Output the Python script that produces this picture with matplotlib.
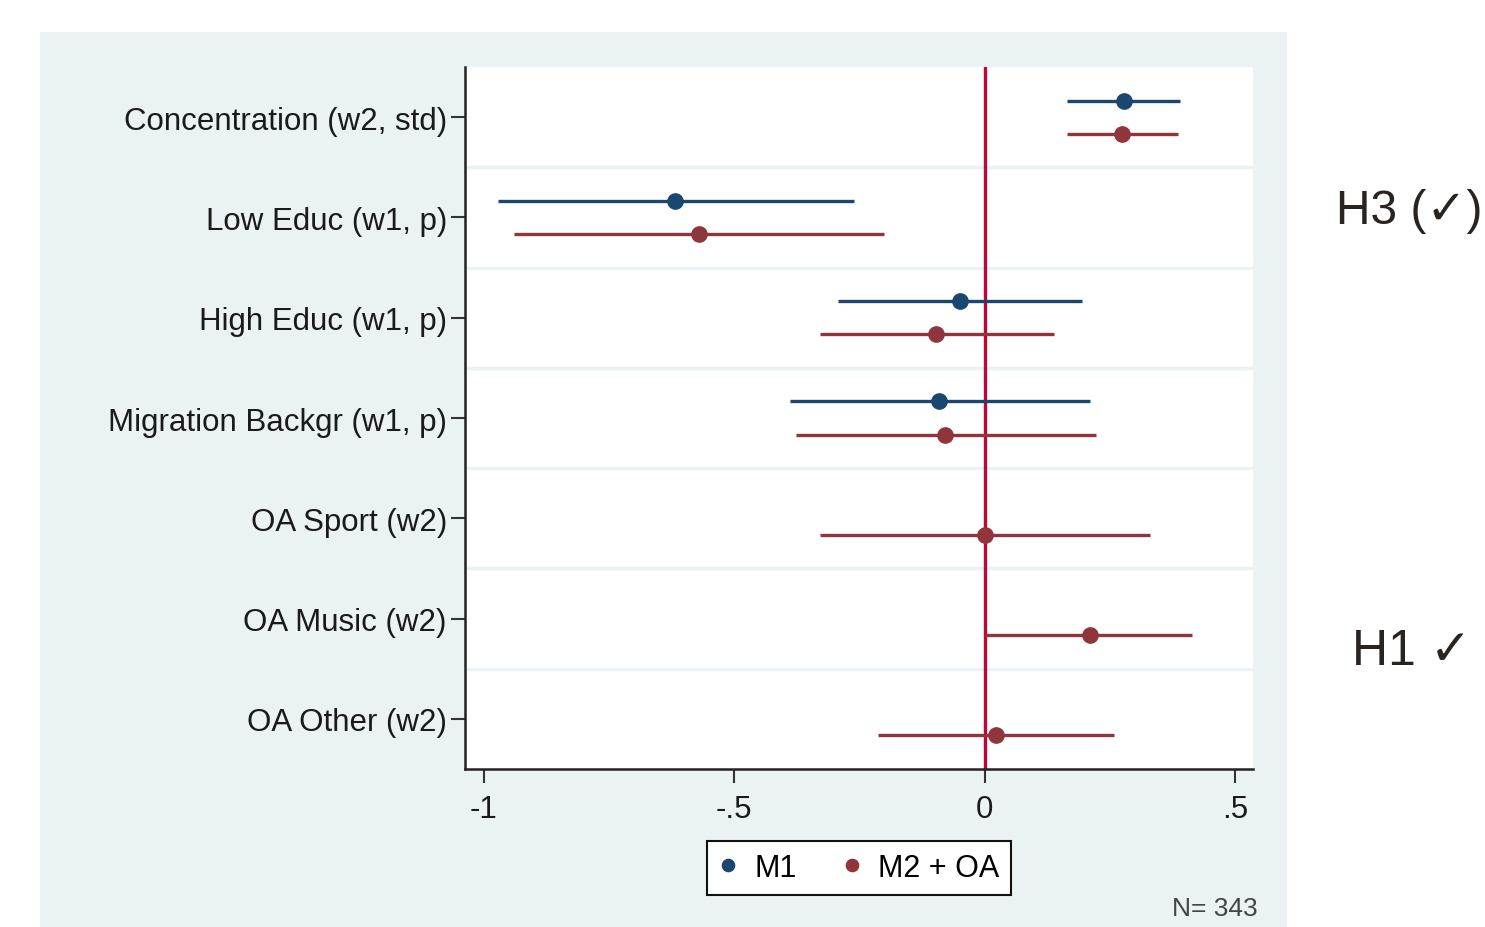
import matplotlib.pyplot as plt
import numpy as np

plt.rcParams['font.family'] = ['Liberation Sans', 'DejaVu Sans']

labels = ['Concentration (w2, std)', 'Low Educ (w1, p)', 'High Educ (w1, p)',
          'Migration Backgr (w1, p)', 'OA Sport (w2)', 'OA Music (w2)', 'OA Other (w2)']

# M1: only the first four rows
m1_est = [0.277, -0.619, -0.050, -0.092]
m1_lo = [0.164, -0.972, -0.293, -0.389]
m1_hi = [0.389, -0.261, 0.194, 0.210]

# M2 + OA: all rows
m2_est = [0.273, -0.571, -0.098, -0.080, 0.000, 0.210, 0.022]
m2_lo = [0.164, -0.940, -0.329, -0.377, -0.329, 0.000, -0.214]
m2_hi = [0.385, -0.202, 0.138, 0.222, 0.329, 0.413, 0.257]

c1 = '#1a476f'
c2 = '#90353b'
bg = '#eaf2f3'

fig = plt.figure(figsize=(14.85, 9.28), dpi=100)

# light panel behind the plot
bgax = fig.add_axes([40/1485, 0, (1287-40)/1485, 1-33/928], zorder=-1)
bgax.set_facecolor(bg)
bgax.set_xticks([])
bgax.set_yticks([])
for s in bgax.spines.values():
    s.set_visible(False)

ax = fig.add_axes([465/1485, 1-770/928, (1253-465)/1485, (770-68)/928], zorder=1)
ax.set_facecolor('white')

off = 0.165
y1 = np.arange(len(m1_est)) - off
y2 = np.arange(len(m2_est)) + off

ax.hlines(y1, m1_lo, m1_hi, color=c1, lw=2.4, zorder=3)
ax.hlines(y2, m2_lo, m2_hi, color=c2, lw=2.4, zorder=3)
ax.plot(m1_est, y1, 'o', color=c1, ms=11, zorder=4, label='M1')
ax.plot(m2_est, y2, 'o', color=c2, ms=11, zorder=4, label='M2 + OA')

ax.axvline(0, color='#c10534', lw=2.4, zorder=2)

for b in np.arange(0.5, len(labels) - 1, 1):
    ax.axhline(b, color=bg, lw=2.5, zorder=1)

ax.set_ylim(6.5, -0.5)
ax.set_xlim(-1.037, 0.535)
ax.set_yticks(range(len(labels)))
ax.set_yticklabels(labels, fontsize=22.5, color='#1a1a1a')
ax.set_xticks([-1, -0.5, 0, 0.5])
ax.set_xticklabels(['-1', '-.5', '0', '.5'], fontsize=22.5, color='#1a1a1a')
ax.tick_params(axis='both', length=10, width=1.5, color='#333333')
ax.tick_params(axis='y', pad=3)
ax.tick_params(axis='x', pad=8)

for s in ['top', 'right']:
    ax.spines[s].set_visible(False)
for s in ['left', 'bottom']:
    ax.spines[s].set_linewidth(1.8)
    ax.spines[s].set_color('#222222')

leg = fig.legend(loc='center', bbox_to_anchor=(859/1485, 1-869/928), ncol=2,
                 fontsize=22, frameon=True, fancybox=False, handlelength=0.6,
                 handletextpad=0.55, columnspacing=1.5, markerscale=0.8,
                 borderpad=0.4, framealpha=1)
leg.get_frame().set_edgecolor('#111111')
leg.get_frame().set_linewidth(1.5)
leg.get_frame().set_facecolor('white')

fig.text(1258/1485, 1-909/928, 'N= 343', fontsize=19, color='#444444',
         ha='right', va='center')
fig.text(1336/1485, 1-212/928, 'H3 (✓)', fontsize=34.5, color='#2a2420',
         ha='left', va='center')
fig.text(1352/1485, 1-652/928, 'H1 ✓', fontsize=36, color='#2a2420',
         ha='left', va='center')

fig.savefig('out.png', dpi=100)
